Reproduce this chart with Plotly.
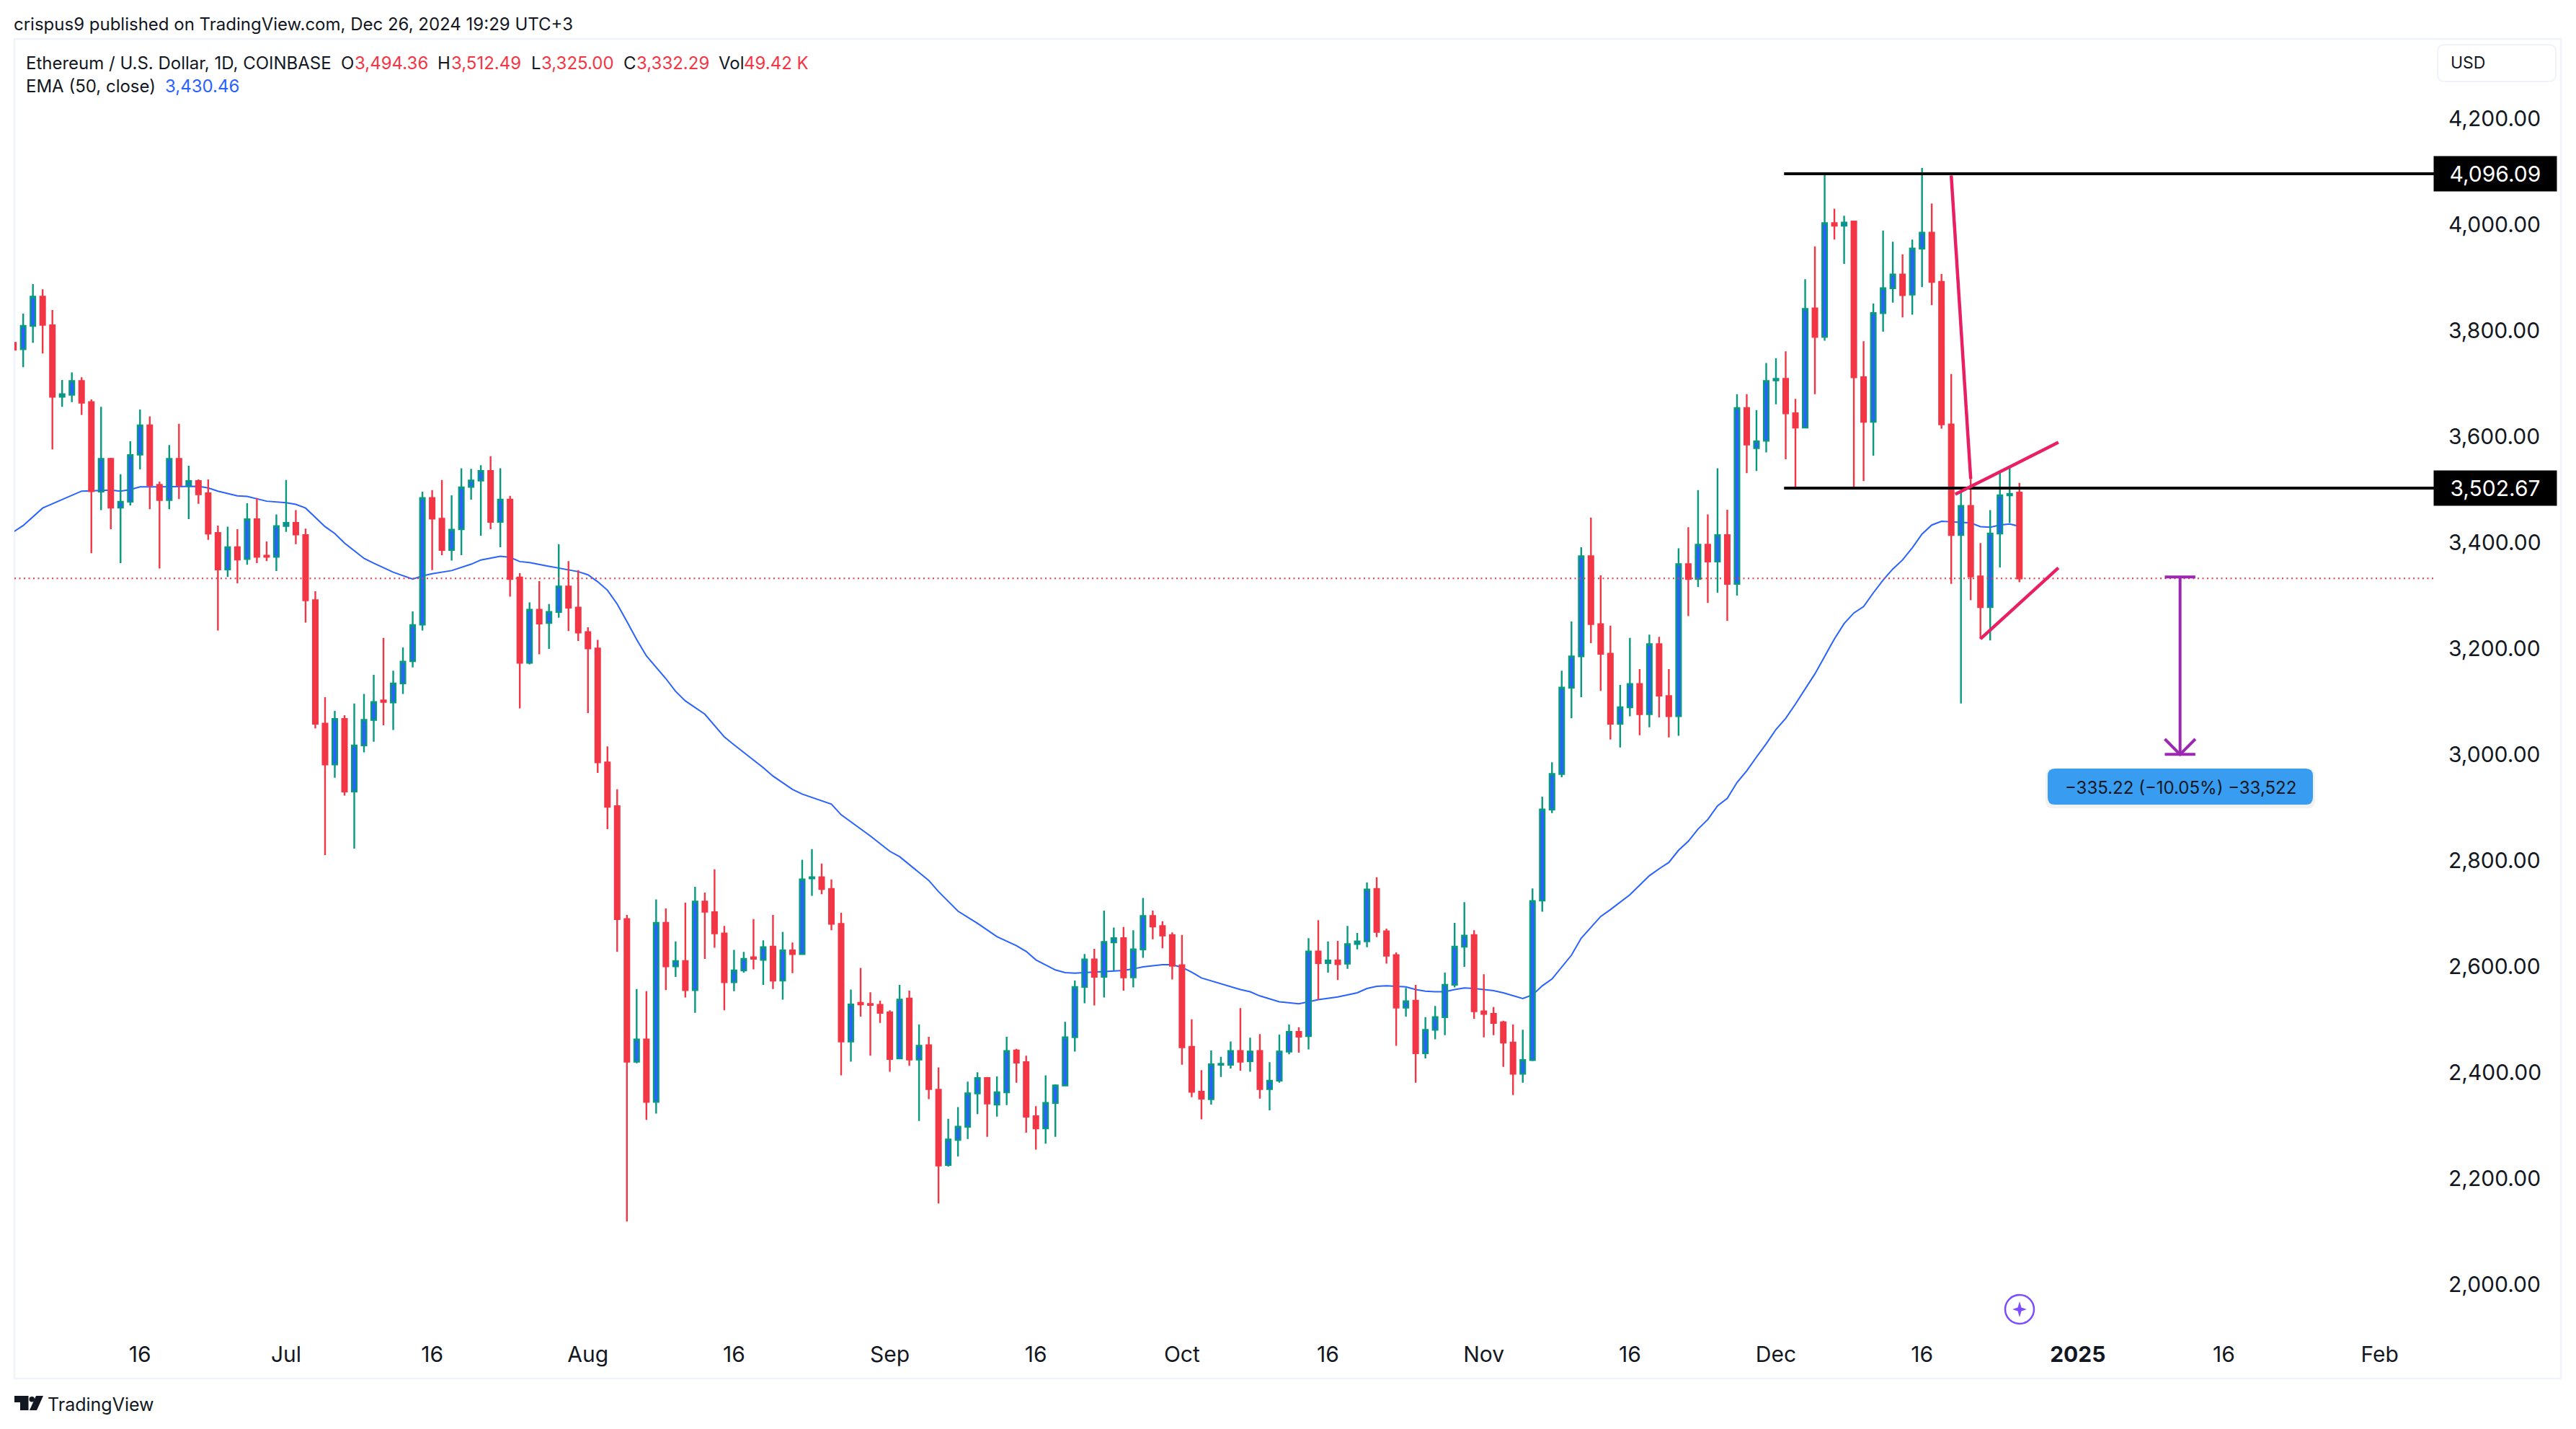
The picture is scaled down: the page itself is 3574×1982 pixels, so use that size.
import pandas as pd
import plotly.graph_objects as go

# daily candles, 3 Jun - 26 Dec 2024
dates = pd.date_range("2024-06-03", "2024-12-26", freq="D")
opens = [3777,3765,3809,3864,3810,3675,3679,3705,3665,3496,
    3558,3466,3477,3566,3621,3509,3480,3558,3508,3516,
    3493,3418,3349,3391,3369,3444,3375,3373,3431,3437,
    3414,3291,3058,2981,3067,2930,3017,3065,3102,3098,
    3134,3176,3245,3484,3445,3386,3425,3505,3517,3535,
    3439,3481,3334,3173,3273,3248,3269,3317,3277,3231,
    3200,2985,2902,2689,2420,2462,2344,2682,2600,2610,
    2555,2722,2702,2662,2570,2592,2617,2612,2637,2573,
    2630,2623,2766,2768,2746,2680,2458,2531,2529,2527,
    2513,2426,2539,2424,2451,2367,2225,2272,2297,2360,
    2389,2339,2362,2441,2419,2317,2294,2342,2375,2466,
    2561,2613,2580,2645,2653,2579,2632,2695,2676,2659,
    2602,2448,2363,2349,2414,2414,2440,2421,2440,2368,
    2384,2439,2476,2468,2628,2606,2611,2605,2642,2647,
    2746,2666,2621,2522,2535,2436,2480,2504,2565,2637,
    2659,2515,2510,2494,2456,2397,2423,2724,2896,2963,
    3126,3185,3374,3246,3190,3058,3089,3133,3076,3208,
    3110,3072,3359,3331,3396,3364,3414,3322,3654,3578,
    3592,3706,3709,3644,3617,3842,3788,4003,3998,4006,
    3712,3628,3833,3880,3906,3868,3955,3985,3892,3623,
    3414,3469,3336,3278,3417,3489,3494.36]
highs = [3810,3832,3888,3878,3839,3707,3721,3712,3670,3656,
    3560,3529,3591,3651,3638,3515,3584,3624,3545,3519,
    3519,3432,3430,3425,3474,3484,3402,3453,3518,3461,
    3426,3308,3108,3082,3074,3096,3114,3150,3220,3158,
    3202,3270,3496,3499,3518,3489,3540,3539,3546,3563,
    3540,3488,3342,3287,3327,3284,3397,3365,3348,3240,
    3216,3015,2934,2697,2557,2553,2726,2709,2647,2720,
    2750,2739,2783,2676,2631,2627,2689,2649,2697,2665,
    2645,2801,2821,2794,2764,2701,2556,2597,2551,2535,
    2517,2565,2554,2490,2467,2409,2312,2334,2382,2400,
    2391,2392,2467,2444,2431,2336,2394,2377,2495,2573,
    2623,2633,2705,2673,2674,2668,2729,2705,2685,2664,
    2659,2500,2404,2441,2429,2458,2521,2465,2472,2419,
    2471,2490,2485,2653,2687,2647,2648,2676,2663,2758,
    2768,2671,2626,2559,2565,2504,2525,2588,2682,2721,
    2668,2585,2523,2497,2490,2480,2747,2920,2985,3158,
    3251,3391,3447,3338,3243,3131,3220,3161,3226,3222,
    3161,3389,3429,3499,3453,3540,3462,3680,3680,3650,
    3739,3748,3761,3671,3897,3959,4094,4030,4017,4007,
    3780,3851,3989,3968,3944,3972,4107,4040,3907,3718,
    3496,3520,3399,3461,3536,3544,3512.49]
lows = [3740,3731,3777,3757,3576,3656,3665,3641,3380,3461,
    3425,3361,3470,3538,3463,3351,3463,3482,3444,3473,
    3405,3234,3335,3323,3358,3361,3365,3346,3420,3397,
    3249,3049,2810,2956,2922,2822,3004,3024,3055,3046,
    3114,3164,3234,3348,3376,3366,3376,3481,3413,3425,
    3391,3298,3087,3170,3189,3199,3258,3233,3214,3078,
    2965,2859,2627,2118,2417,2310,2322,2555,2580,2541,
    2512,2614,2635,2517,2553,2588,2594,2565,2557,2537,
    2587,2623,2733,2736,2668,2394,2420,2505,2431,2493,
    2401,2425,2412,2308,2349,2152,2222,2241,2274,2321,
    2278,2316,2338,2380,2286,2254,2265,2278,2374,2439,
    2530,2526,2541,2592,2554,2560,2616,2651,2634,2575,
    2414,2353,2311,2339,2391,2407,2403,2401,2350,2328,
    2380,2434,2437,2443,2537,2588,2574,2595,2632,2636,
    2655,2605,2450,2505,2380,2426,2462,2470,2560,2599,
    2501,2466,2470,2410,2357,2380,2421,2703,2889,2957,
    3068,3108,3210,3120,3028,3013,3072,3036,3051,3070,
    3032,3035,3261,3316,3286,3305,3252,3300,3531,3535,
    3570,3661,3557,3501,3617,3680,3781,3972,3926,3501,
    3516,3564,3798,3853,3825,3830,3882,3848,3615,3322,
    3096,3291,3218,3215,3353,3437,3325]
closes = [3764,3809,3864,3811,3675,3680,3705,3664,3497,3558,
    3466,3477,3565,3621,3508,3480,3558,3508,3516,3491,
    3417,3349,3391,3368,3444,3373,3373,3431,3437,3415,
    3291,3058,2981,3067,2930,3017,3065,3099,3099,3134,
    3175,3244,3484,3445,3386,3424,3504,3517,3535,3439,
    3481,3331,3173,3273,3247,3269,3317,3277,3230,3200,
    2985,2901,2689,2420,2462,2344,2682,2600,2610,2555,
    2722,2703,2662,2570,2592,2614,2614,2636,2573,2630,
    2623,2764,2768,2746,2680,2458,2528,2528,2527,2512,
    2425,2537,2424,2450,2368,2224,2273,2297,2360,2389,
    2341,2362,2440,2418,2316,2294,2342,2375,2466,2561,
    2613,2580,2646,2653,2579,2632,2695,2675,2658,2601,
    2447,2363,2350,2415,2416,2440,2420,2439,2368,2384,
    2439,2476,2467,2628,2606,2611,2604,2642,2647,2745,
    2665,2620,2522,2534,2436,2480,2504,2565,2637,2658,
    2515,2510,2493,2456,2397,2423,2723,2896,2963,3126,
    3185,3374,3246,3190,3058,3089,3133,3076,3208,3111,
    3072,3359,3331,3396,3364,3414,3322,3654,3585,3591,
    3705,3709,3644,3617,3841,3788,4003,3998,4004,3712,
    3628,3833,3880,3906,3867,3955,3985,3892,3623,3414,
    3469,3336,3278,3417,3489,3492,3332.29]

# EMA 50, read at the visible kinks of the line
ema_dates = ["2024-06-03","2024-06-04","2024-06-06","2024-06-08","2024-06-10","2024-06-13","2024-06-14","2024-06-15",
    "2024-06-16","2024-06-18","2024-06-21","2024-06-22","2024-06-23","2024-06-24","2024-06-26","2024-06-27","2024-06-29",
    "2024-07-01","2024-07-02","2024-07-03","2024-07-05","2024-07-06","2024-07-07","2024-07-09","2024-07-10","2024-07-12",
    "2024-07-14","2024-07-15","2024-07-16","2024-07-18","2024-07-20","2024-07-21","2024-07-23","2024-07-24","2024-07-25",
    "2024-07-26","2024-07-28","2024-07-30","2024-07-31","2024-08-01","2024-08-02","2024-08-03","2024-08-04","2024-08-05",
    "2024-08-06","2024-08-07","2024-08-08","2024-08-09","2024-08-10","2024-08-11","2024-08-13","2024-08-14","2024-08-15",
    "2024-08-16","2024-08-17","2024-08-19","2024-08-20","2024-08-22","2024-08-23","2024-08-25","2024-08-26","2024-08-27",
    "2024-08-28","2024-08-29","2024-08-30","2024-09-01","2024-09-02","2024-09-05","2024-09-06","2024-09-08","2024-09-09",
    "2024-09-10","2024-09-12","2024-09-14","2024-09-15","2024-09-16","2024-09-18","2024-09-19","2024-09-20","2024-09-22",
    "2024-09-24","2024-09-25","2024-09-26","2024-09-27","2024-09-29","2024-09-30","2024-10-01","2024-10-02","2024-10-03",
    "2024-10-05","2024-10-06","2024-10-07","2024-10-08","2024-10-09","2024-10-11","2024-10-13","2024-10-14","2024-10-15",
    "2024-10-17","2024-10-19","2024-10-20","2024-10-21","2024-10-22","2024-10-23","2024-10-24","2024-10-25","2024-10-26",
    "2024-10-27","2024-10-28","2024-10-29","2024-10-30","2024-10-31","2024-11-01","2024-11-02","2024-11-03","2024-11-04",
    "2024-11-05","2024-11-06","2024-11-07","2024-11-08","2024-11-09","2024-11-10","2024-11-11","2024-11-12","2024-11-13",
    "2024-11-14","2024-11-15","2024-11-16","2024-11-17","2024-11-18","2024-11-19","2024-11-20","2024-11-21","2024-11-22",
    "2024-11-23","2024-11-24","2024-11-25","2024-11-26","2024-11-27","2024-11-28","2024-11-29","2024-11-30","2024-12-01",
    "2024-12-02","2024-12-03","2024-12-04","2024-12-05","2024-12-06","2024-12-07","2024-12-08","2024-12-09","2024-12-10",
    "2024-12-11","2024-12-12","2024-12-13","2024-12-14","2024-12-15","2024-12-16","2024-12-17","2024-12-18","2024-12-19",
    "2024-12-20","2024-12-21","2024-12-22","2024-12-23","2024-12-24","2024-12-25","2024-12-26"]
ema_values = [3420,3432,3465,3481,3497,3499,3497,3500,
    3505,3505,3506,3506,3503,3497,3488,3487,3478,
    3475,3472,3465,3430,3417,3399,3370,3361,3344,
    3331,3337,3341,3347,3359,3367,3374,3372,3364,
    3362,3355,3349,3345,3339,3326,3310,3284,3251,
    3217,3186,3165,3143,3119,3101,3076,3055,3033,
    3018,3004,2975,2959,2934,2925,2913,2906,2886,
    2873,2860,2846,2817,2807,2762,2741,2704,2693,
    2681,2656,2639,2628,2612,2593,2588,2587,2589,
    2592,2592,2595,2599,2603,2603,2598,2589,2578,
    2567,2562,2556,2552,2544,2533,2529,2533,2537,
    2542,2550,2558,2562,2563,2562,2561,2556,2553,
    2552,2552,2556,2559,2558,2556,2554,2550,2544,
    2539,2546,2563,2576,2598,2621,2653,2674,2694,
    2707,2721,2735,2753,2771,2784,2796,2819,2836,
    2859,2877,2903,2917,2947,2969,2995,3020,3047,
    3068,3095,3124,3152,3185,3218,3247,3267,3279,
    3305,3329,3350,3367,3390,3416,3433,3440,3439,
    3439,3437,3430,3429,3433,3435,3430.46]

price_ticks = [2000,2200,2400,2600,2800,3000,3200,3400,3600,3800,4000,4200]
time_ticks = ["2024-06-16","2024-07-01","2024-07-16","2024-08-01","2024-08-16","2024-09-01","2024-09-16","2024-10-01",
    "2024-10-16","2024-11-01","2024-11-16","2024-12-01","2024-12-16","2025-01-01","2025-01-16","2025-02-01"]
time_labels = ["16","Jul","16","Aug","16","Sep","16","Oct","16","Nov","16","Dec","16","<b>2025</b>","16","Feb"]

# drawings on the chart
x_start, x_end = "2024-06-03 02:24", "2025-02-06 19:12"
levels = [4096.09, 3502.67]
level_start = "2024-12-01 20:00"
last_close = 3332.29
wedge_x = ["2024-12-19", "2024-12-21", None, "2024-12-19 10:00", "2024-12-30", None, "2024-12-22", "2024-12-30"]
wedge_y = [4093, 3520, None, 3491, 3589, None, 3218, 3352]
measure_x = ["2025-01-09 22:20", "2025-01-13 01:40", None, "2025-01-11 12:00", "2025-01-11 12:00", None,
    "2025-01-09 22:20", "2025-01-11 12:00", "2025-01-13 01:40", None, "2025-01-09 22:20", "2025-01-13 01:40"]
measure_y = [3335, 3335, None, 3335, 3000, None, 3029, 3000, 3029, None, 3000, 3000]

RED = "#F23645"
GREEN = "#089981"
BLUE = "#2962FF"
INK = "#131722"
BORDER = "#F0F3FA"
FONT = "Inter"
y_range = [1919.7, 4349.3]

# the plot area in screen pixels, the rest of the layout is placed from it
W, H = 3574, 1982
LEFT, RIGHT, TOP, BOTTOM = 20, 3380, 55, 1840

def px(x):
    return (x - LEFT) / (RIGHT - LEFT)

def py(y):
    return 1 - (y - TOP) / (BOTTOM - TOP)

def rounded(x0, y0, x1, y1, r):
    return (f"M {px(x0 + r)} {py(y0)} L {px(x1 - r)} {py(y0)} Q {px(x1)} {py(y0)} {px(x1)} {py(y0 + r)} "
            f"L {px(x1)} {py(y1 - r)} Q {px(x1)} {py(y1)} {px(x1 - r)} {py(y1)} "
            f"L {px(x0 + r)} {py(y1)} Q {px(x0)} {py(y1)} {px(x0)} {py(y1 - r)} "
            f"L {px(x0)} {py(y0 + r)} Q {px(x0)} {py(y0)} {px(x0 + r)} {py(y0)} Z")

def polygon(points):
    return "M " + " L ".join(f"{px(x)} {py(y)}" for x, y in points) + " Z"

def label(x, y, text, size=24, color=INK, **kw):
    return dict(xref="paper", yref="paper", x=px(x), y=py(y), text=text, showarrow=False,
                xanchor=kw.pop("xanchor", "left"), yanchor="middle",
                font=dict(family=FONT, size=size, color=color), **kw)

fig = go.Figure()

# scatter always sits above candles in one subplot, so the layers are overlaid axes: EMA, candles, drawings
fig.add_trace(go.Scatter(x=ema_dates, y=ema_values, mode="lines", line=dict(color=BLUE, width=2),
                         yaxis="y", name="EMA (50, close)"))
fig.add_trace(go.Candlestick(x=dates, open=opens, high=highs, low=lows, close=closes, yaxis="y2", name="ETHUSD",
                             whiskerwidth=0,
                             increasing=dict(line=dict(color=GREEN, width=2.4), fillcolor=BLUE),
                             decreasing=dict(line=dict(color=RED, width=2.4), fillcolor=RED)))
fig.add_trace(go.Scatter(x=[x_start, x_end], y=[last_close, last_close], mode="lines", yaxis="y3",
                         line=dict(color=RED, width=2, dash="2px,4.5px")))
for level in levels:
    fig.add_trace(go.Scatter(x=[level_start, x_end], y=[level, level], mode="lines", yaxis="y3",
                             line=dict(color="black", width=4)))
fig.add_trace(go.Scatter(x=wedge_x, y=wedge_y, mode="lines", yaxis="y3", line=dict(color="#E91E63", width=4.5)))
fig.add_trace(go.Scatter(x=measure_x, y=measure_y, mode="lines", yaxis="y3", line=dict(color="#9C27B0", width=4)))

shapes = [
    # pane border
    dict(type="rect", xref="paper", yref="paper", x0=px(20), x1=px(3553), y0=py(1912), y1=py(54),
         line=dict(color=BORDER, width=2.5), layer="below"),
    # currency button
    dict(type="path", xref="paper", yref="paper", path=rounded(3382, 62, 3546, 113, 10),
         line=dict(color=BORDER, width=2)),
    # measure label
    dict(type="path", xref="paper", yref="paper", path=rounded(2838, 1066, 3212, 1121, 10),
         fillcolor="rgba(0,0,0,0.05)", line=dict(width=0)),
    dict(type="path", xref="paper", yref="paper", path=rounded(2841, 1066, 3209, 1116, 10),
         fillcolor="#389CF0", line=dict(width=0)),
    # sparkle marker
    dict(type="circle", xref="paper", yref="paper", x0=px(2782), x1=px(2822), y0=py(1836), y1=py(1796),
         line=dict(color="#7C4DFF", width=2.5)),
    dict(type="path", xref="paper", yref="paper", fillcolor="#7C4DFF", line=dict(width=0),
         path=polygon([(2802, 1805), (2804.5, 1813.5), (2812, 1816), (2804.5, 1818.5), (2802, 1827),
                       (2799.5, 1818.5), (2792, 1816), (2799.5, 1813.5)])),
    # TradingView logo
    dict(type="path", xref="paper", yref="paper", fillcolor=INK, line=dict(width=0),
         path=polygon([(20, 1936), (39.5, 1936), (39.5, 1956), (28, 1956), (28, 1945), (20, 1945)])),
    dict(type="circle", xref="paper", yref="paper", x0=px(40.5), x1=px(48), y0=py(1944.5), y1=py(1937),
         fillcolor=INK, line=dict(width=0)),
    dict(type="path", xref="paper", yref="paper", fillcolor=INK, line=dict(width=0),
         path=polygon([(50, 1936), (60, 1936), (51, 1956), (41, 1956)])),
]

annotations = [
    label(17, 33, "crispus9 published on TradingView.com, Dec 26, 2024 19:29 UTC+3"),
    label(34, 87, "Ethereum / U.S. Dollar, 1D, COINBASE"),
    label(34, 120, "EMA (50, close)"),
    label(227, 120, "3,430.46", color=BLUE),
    label(3398, 87, "USD", size=23),
    label(3025, 1092, "−335.22 (−10.05%) −33,522", size=24, color=INK, xanchor="center"),
    label(64, 1948, "TradingView", size=25),
]
for x, letter, x_val, value in [(471, "O", 490, "3,494.36"), (605, "H", 624, "3,512.49"), (735, "L", 749, "3,325.00"),
                                (863, "C", 881, "3,332.29"), (995, "Vol", 1030, "49.42 K")]:
    annotations.append(label(x, 87, letter))
    annotations.append(label(x_val, 87, value, color=RED))
for level in levels:
    annotations.append(dict(xref="paper", yref="y3", x=px(3376), y=level, text=f"{level:,.2f}", showarrow=False,
                            xanchor="left", yanchor="middle", width=168, height=46, align="center", bgcolor="black",
                            font=dict(family=FONT, size=30, color="white")))

fig.update_layout(
    width=W, height=H, margin=dict(l=LEFT, r=W - RIGHT, t=TOP, b=H - BOTTOM, autoexpand=False),
    paper_bgcolor="white", plot_bgcolor="white", showlegend=False,
    shapes=shapes, annotations=annotations,
    xaxis=dict(type="date", range=[x_start, x_end], rangeslider=dict(visible=False), showgrid=False, zeroline=False,
               showline=False, tickmode="array", tickvals=time_ticks, ticktext=time_labels, ticks="",
               ticklabelstandoff=18, tickangle=0, tickfont=dict(family=FONT, size=30, color=INK)),
    yaxis=dict(side="right", range=y_range, showgrid=False, zeroline=False, showline=False, tickmode="array",
               tickvals=price_ticks, tickformat=",.2f", ticks="", ticklabelstandoff=16,
               tickfont=dict(family=FONT, size=30, color=INK)),
    yaxis2=dict(overlaying="y", range=y_range, visible=False),
    yaxis3=dict(overlaying="y", range=y_range, visible=False),
)

fig.write_html("out.html", config={"displayModeBar": False}, post_script="document.body.style.margin='0';")
